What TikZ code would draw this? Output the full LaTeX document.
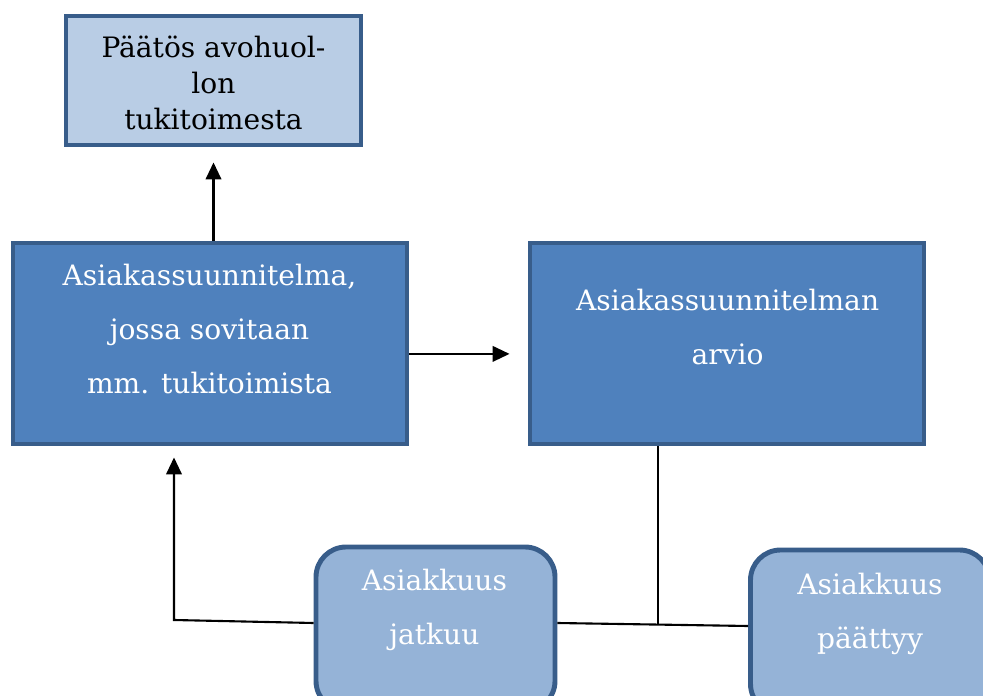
\documentclass[tikz,border=0pt]{standalone}
\usepackage{fontspec}
\setmainfont{DejaVu Serif}
\usetikzlibrary{calc,arrows.meta}

\definecolor{edgeblue}{HTML}{385D8A}
\definecolor{paleblue}{HTML}{B9CDE5}
\definecolor{midblue}{HTML}{4F81BD}
\definecolor{softblue}{HTML}{95B3D7}

\tikzset{
	box/.style={draw=edgeblue, line width=3.5pt, inner sep=0pt},
	decisionbox/.style={box, fill=paleblue, minimum width=7.375cm, minimum height=3.225cm},
	planbox/.style={box, fill=midblue, minimum width=9.85cm, minimum height=5.025cm},
	endbox/.style={box, fill=softblue, rounded corners=0.75cm, minimum width=5.975cm, minimum height=4.1cm},
	boxtext/.style={align=center, inner sep=0pt, font=\fontsize{20}{38.4}\selectfont, text=white},
	link/.style={line width=1.5pt, draw=black},
	arrowlink/.style={link, -{Triangle[length=12pt, width=11pt]}}
}

\begin{document}
\begin{tikzpicture}
			%%%%% frame %%%%%
			\useasboundingbox (0, 0) rectangle (24.575, 17.375);
			\clip (0, 0) rectangle (24.575, 17.375);
			
			%%%%% boxes %%%%%
			\node[decisionbox] (paatos) at (5.3375, 15.3625) {};
			\node[boxtext, text=black, font=\fontsize{20}{25.6}\selectfont] (paatostext) at (5.3375, 15.3) {Päätös avohuol-\\lon\\tukitoimesta};
			
			\node[planbox] (plan) at (5.25, 8.7875) {};
			\node[boxtext] (plantext) at (5.2375, 9.15) {Asiakassuunnitelma,\\jossa sovitaan\\mm. tukitoimista};
			
			\node[planbox] (arvio) at (18.175, 8.7875) {};
			\node[boxtext] (arviotext) at (18.19, 9.1875) {Asiakassuunnitelman\\arvio};
			
			\node[endbox] (jatkuu) at (10.8875, 1.65) {};
			\node[boxtext] (jatkuutext) at (10.86, 2.125) {Asiakkuus\\jatkuu};
			
			\node[endbox] (paattyy) at (21.75, 1.575) {};
			\node[boxtext] (paattyytext) at (21.75, 2.025) {Asiakkuus\\päättyy};
			
			%%%%% connectors %%%%%
			\coordinate (junction) at (16.45, 1.75);
			\coordinate (corner) at (4.35, 1.875);
			
			\draw[arrowlink, shorten >=0.375cm] (plan.north -| paatos.south) -- (paatos.south);
			\draw[arrowlink, shorten >=0.45cm] ($(plan.east)+(0,-0.26)$) -- ($(arvio.west)+(0,-0.26)$);
			\draw[link] (arvio.south -| junction) -- (junction);
			\draw[link] ($(jatkuu.east)+(0,0.15)$) -- ($(paattyy.west)+(0,0.15)$);
			\draw[arrowlink, shorten >=0.275cm] ($(jatkuu.west)+(0,0.15)$) -- (corner) -- (corner |- plan.south);
			
\end{tikzpicture}
\end{document}
